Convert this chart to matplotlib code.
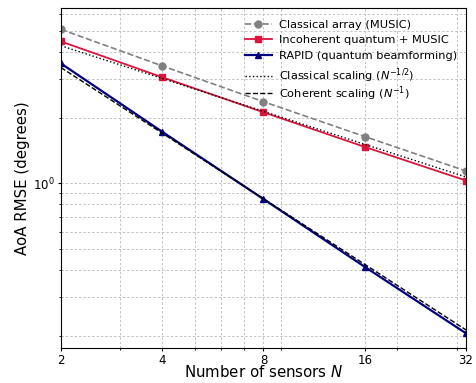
import numpy as np
import matplotlib
matplotlib.use('Agg')
import matplotlib.pyplot as plt
from matplotlib.ticker import ScalarFormatter, NullFormatter

# Number of sensors in the array
n_sensors = [2, 4, 8, 16, 32]

# AoA RMSE (degrees) per method
rmse_classical = [5.09, 3.46, 2.37, 1.64, 1.14]
rmse_incoherent = [4.48, 3.07, 2.12, 1.47, 1.03]
rmse_rapid = [3.55, 1.725, 0.847, 0.414, 0.205]

# Reference scaling curves
ref_classical = [4.28, 3.03, 2.14, 1.51, 1.07]
ref_coherent = [3.40, 1.70, 0.85, 0.425, 0.2125]

fig, ax = plt.subplots(figsize=(4.76, 3.83), dpi=100)
fig.subplots_adjust(left=0.128, right=0.979, top=0.978, bottom=0.092)

ax.plot(n_sensors, rmse_classical, '--o', color='gray', lw=1.2, ms=5,
        label='Classical array (MUSIC)')
ax.plot(n_sensors, rmse_incoherent, '-s', color='crimson', lw=1.3, ms=5,
        label='Incoherent quantum + MUSIC')
ax.plot(n_sensors, rmse_rapid, '-^', color='navy', lw=1.6, ms=5,
        label='RAPID (quantum beamforming)')
ax.plot(n_sensors, ref_classical, ':', color='black', lw=1.0,
        label=r'Classical scaling ($N^{-1/2}$)')
ax.plot(n_sensors, ref_coherent, '--', color='black', lw=1.0,
        label=r'Coherent scaling ($N^{-1}$)')

ax.set_xscale('log')
ax.set_yscale('log')
ax.set_xlim(2, 32)
ax.set_ylim(0.176, 6.35)
ax.set_xticks(n_sensors)
ax.xaxis.set_major_formatter(ScalarFormatter())
ax.xaxis.set_minor_formatter(NullFormatter())
ax.tick_params(which='major', labelsize=8.5, length=2.5, pad=2)
ax.tick_params(which='minor', length=1.5)

ax.grid(True, which='both', linestyle=(0, (2.5, 2)), color='#c4c4c4', lw=0.7)

ax.set_xlabel('Number of sensors $N$', fontsize=10.8, labelpad=-2.5)
ax.set_ylabel('AoA RMSE (degrees)', fontsize=10.8, labelpad=2)

# legend split in two so the last row keeps an even spacing
handles, labels = ax.get_legend_handles_labels()
leg_opts = dict(loc='upper left', frameon=False, fontsize=8.2,
                handlelength=2.4, handletextpad=0.6, labelspacing=0.5,
                borderaxespad=0, borderpad=0)
leg1 = ax.legend(handles[:4], labels[:4], bbox_to_anchor=(0.454, 0.967), **leg_opts)
ax.add_artist(leg1)
ax.legend(handles[4:], labels[4:], bbox_to_anchor=(0.454, 0.777), **leg_opts)

plt.savefig('out.png', dpi=100)
